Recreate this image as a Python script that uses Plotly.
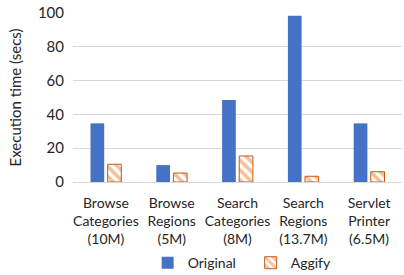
import plotly.graph_objects as go

categories = ["Browse<br>Categories<br>(10M)", "Browse<br>Regions<br>(5M)", "Search<br>Categories<br>(8M)",
              "Search<br>Regions<br>(13.7M)", "Servlet<br>Printer<br>(6.5M)"]
original = [34.7, 10, 48.5, 98.4, 34.7]
aggify = [10.5, 5.3, 15.4, 3.4, 6.1]
y_ticks = [0, 20, 40, 60, 80, 100]

font = "Lato"

fig = go.Figure()
fig.add_trace(go.Bar(x=categories, y=original, name="Original",
                     marker=dict(color="#4472C4", line=dict(width=0))))
fig.add_trace(go.Bar(x=categories, y=aggify, name="Aggify",
                     marker=dict(color="white",
                                 line=dict(color="#C55A11", width=1),
                                 pattern=dict(shape="\\", fgcolor="#ED7D31", bgcolor="white",
                                              size=7, solidity=0.5))))

fig.update_layout(
    width=404, height=275,
    margin=dict(l=73, r=2, t=13, b=93, autoexpand=False),
    paper_bgcolor="white", plot_bgcolor="white",
    font=dict(family=font, size=14, color="#262626"),
    barmode="group", bargap=0.48, bargroupgap=0.2,
    showlegend=True,
    legend=dict(orientation="h", x=0.54, xanchor="center", y=-0.48, yanchor="middle",
                font=dict(size=14), itemwidth=30, entrywidth=58, entrywidthmode="pixels",
                tracegroupgap=0),
    xaxis=dict(showgrid=False, showline=True, linecolor="#D9D9D9", linewidth=1,
               ticks="outside", ticklen=8, tickcolor="rgba(0,0,0,0)",
               tickfont=dict(size=14), automargin=False),
    yaxis=dict(range=[0, 100], tickvals=y_ticks, showgrid=True, gridcolor="#D9D9D9",
               gridwidth=1, zeroline=False, showline=False, ticks="", automargin=False,
               ticklabelstandoff=8, tickfont=dict(size=15),
               title=dict(text="Execution time (secs)", font=dict(size=15), standoff=12)),
)

fig.write_html("out.html", config={"displayModeBar": False},
               post_script="document.body.style.margin='0';")
